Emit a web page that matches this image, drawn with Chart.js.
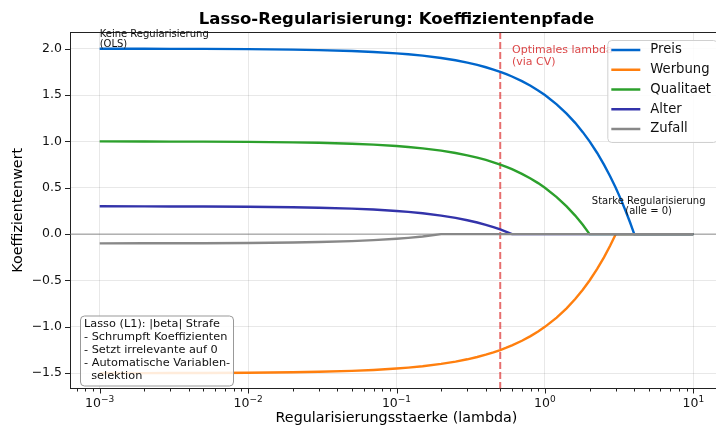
<!DOCTYPE html>
<html>
<head>
<meta charset="utf-8">
<script src="https://cdn.jsdelivr.net/npm/chart.js@4"></script>
<style>
    html, body { margin: 0; padding: 0; background: #fff; overflow: hidden; }
    #wrap { width: 730px; height: 428px; }
</style>
</head>
<body>
<div id="wrap"><canvas id="pfadChart" width="730" height="428"></canvas></div>
<script>
// lambda grid
const lambdas = [0.001, 0.002, 0.003, 0.005, 0.01, 0.02, 0.03, 0.05, 0.07, 0.1, 0.12, 0.15, 0.2, 0.25, 0.3, 0.35, 0.4, 0.45, 0.5,
    0.55, 0.6, 0.7, 0.8, 0.9, 1.0, 1.2, 1.4, 1.6, 1.8, 2.0, 2.25, 2.5, 2.75, 3.0, 3.25, 3.5, 3.75, 4.0, 5.0, 7.0, 10.0];

const preis = [2.0, 1.999, 1.998, 1.998, 1.995, 1.99, 1.985, 1.975, 1.965, 1.95, 1.94, 1.925, 1.9, 1.875, 1.85, 1.825, 1.8, 1.775, 1.75,
    1.725, 1.7, 1.65, 1.6, 1.55, 1.5, 1.4, 1.3, 1.2, 1.1, 1.0, 0.875, 0.75, 0.625, 0.5, 0.375, 0.25, 0.125, 0, 0, 0, 0];
const werbung = [-1.5, -1.499, -1.498, -1.498, -1.495, -1.49, -1.485, -1.475, -1.465, -1.45, -1.44, -1.425, -1.4, -1.375, -1.35, -1.325, -1.3, -1.275, -1.25,
    -1.225, -1.2, -1.15, -1.1, -1.05, -1.0, -0.9, -0.8, -0.7, -0.6, -0.5, -0.375, -0.25, -0.125, 0, 0, 0, 0, 0, 0, 0, 0];
const qualitaet = [1.0, 0.999, 0.998, 0.998, 0.995, 0.99, 0.985, 0.975, 0.965, 0.95, 0.94, 0.925, 0.9, 0.875, 0.85, 0.825, 0.8, 0.775, 0.75,
    0.725, 0.7, 0.65, 0.6, 0.55, 0.5, 0.4, 0.3, 0.2, 0.1, 0, 0, 0, 0, 0, 0, 0, 0, 0, 0, 0, 0];
const alter = [0.3, 0.299, 0.298, 0.298, 0.295, 0.29, 0.285, 0.275, 0.265, 0.25, 0.24, 0.225, 0.2, 0.175, 0.15, 0.125, 0.1, 0.075, 0.05,
    0.025, 0, 0, 0, 0, 0, 0, 0, 0, 0, 0, 0, 0, 0, 0, 0, 0, 0, 0, 0, 0, 0];
const zufall = [-0.1, -0.099, -0.098, -0.098, -0.095, -0.09, -0.085, -0.075, -0.065, -0.05, -0.04, -0.025, 0, 0, 0, 0, 0, 0, 0,
    0, 0, 0, 0, 0, 0, 0, 0, 0, 0, 0, 0, 0, 0, 0, 0, 0, 0, 0, 0, 0, 0];

const seriesNames = ['Preis', 'Werbung', 'Qualitaet', 'Alter', 'Zufall'];
const seriesValues = [preis, werbung, qualitaet, alter, zufall];
const seriesColors = ['#0066cc', '#ff7f0e', '#2ca02c', '#3333aa', '#888888'];

const xTicks = [0.001, 0.01, 0.1, 1, 10];
const xTickExponents = ['\u22123', '\u22122', '\u22121', '0', '1'];
const yTicks = [-1.5, -1.0, -0.5, 0, 0.5, 1.0, 1.5, 2.0];
const optimalLambda = 0.5;

const FONT = "'DejaVu Sans', sans-serif";

// helper: multi-line text centred vertically on y
function drawLines(ctx, lines, x, y, lineH, align) {
    ctx.textAlign = align;
    ctx.textBaseline = 'middle';
    const start = y - (lines.length - 1) * lineH / 2;
    lines.forEach((l, i) => ctx.fillText(l, x, start + i * lineH));
}

const extrasPlugin = {
    id: 'extras',
    beforeDatasetsDraw(chart) {
        const {ctx, chartArea: a, scales: {x, y}} = chart;
        ctx.save();
        // zero line
        const y0 = y.getPixelForValue(0);
        ctx.strokeStyle = 'rgba(120,120,120,0.8)';
        ctx.lineWidth = 1;
        ctx.beginPath(); ctx.moveTo(a.left, y0); ctx.lineTo(a.right, y0); ctx.stroke();
        // optimal lambda
        const xo = x.getPixelForValue(optimalLambda);
        ctx.strokeStyle = 'rgba(220,50,50,0.7)';
        ctx.lineWidth = 2;
        ctx.setLineDash([7, 3]);
        ctx.beginPath(); ctx.moveTo(xo, a.top); ctx.lineTo(xo, a.bottom); ctx.stroke();
        ctx.restore();
    },
    afterDatasetsDraw(chart) {
        const {ctx, chartArea: a, scales: {x, y}} = chart;
        ctx.save();

        // top spine
        ctx.strokeStyle = '#222';
        ctx.lineWidth = 1;
        ctx.beginPath(); ctx.moveTo(a.left, a.top + 0.5); ctx.lineTo(a.right, a.top + 0.5); ctx.stroke();

        // tick marks (major + minor on log axis)
        ctx.beginPath();
        for (let e = -4; e <= 1; e++) {
            for (let k = 1; k <= 9; k++) {
                const v = k * Math.pow(10, e);
                if (v < x.min || v > x.max) continue;
                const px = Math.round(x.getPixelForValue(v)) + 0.5;
                ctx.moveTo(px, a.bottom);
                ctx.lineTo(px, a.bottom + (k === 1 ? 5 : 3));
            }
        }
        yTicks.forEach(v => {
            const py = Math.round(y.getPixelForValue(v)) + 0.5;
            ctx.moveTo(a.left - 5, py);
            ctx.lineTo(a.left, py);
        });
        ctx.stroke();

        // x tick labels: 10 with superscript exponent
        ctx.fillStyle = '#111';
        ctx.textBaseline = 'alphabetic';
        ctx.textAlign = 'left';
        xTicks.forEach((v, i) => {
            ctx.font = '12.5px ' + FONT;
            const wb = ctx.measureText('10').width;
            ctx.font = '9px ' + FONT;
            const we = ctx.measureText(xTickExponents[i]).width;
            const px = x.getPixelForValue(v);
            const sx = px - (wb + we) / 2;
            const base = a.bottom + 18;
            ctx.font = '12.5px ' + FONT;
            ctx.fillText('10', sx, base);
            ctx.font = '9px ' + FONT;
            ctx.fillText(xTickExponents[i], sx + wb, base - 5);
        });

        // annotations
        ctx.fillStyle = '#111';
        ctx.font = '10px ' + FONT;
        drawLines(ctx, ['Keine Regularisierung', '(OLS)'], x.getPixelForValue(0.001), y.getPixelForValue(2.1), 10.5, 'left');
        drawLines(ctx, ['Starke Regularisierung', '(alle = 0)'], x.getPixelForValue(5), y.getPixelForValue(0.3), 10.5, 'center');
        ctx.fillStyle = 'rgba(214,39,40,0.85)';
        ctx.font = '11px ' + FONT;
        drawLines(ctx, ['Optimales lambda', '(via CV)'], x.getPixelForValue(0.6), y.getPixelForValue(1.92), 12.5, 'left');

        // info box bottom left
        const boxLines = ['Lasso (L1): |beta| Strafe', '- Schrumpft Koeffizienten', '- Setzt irrelevante auf 0',
            '- Automatische Variablen-', '  selektion'];
        ctx.font = '11.3px ' + FONT;
        const bx = a.left + 10, bw = 153, bh = 70, by = a.bottom - 3 - bh;
        ctx.beginPath();
        ctx.roundRect(bx + 0.5, by + 0.5, bw, bh, 4);
        ctx.fillStyle = 'rgba(255,255,255,0.85)';
        ctx.fill();
        ctx.strokeStyle = '#999';
        ctx.lineWidth = 1;
        ctx.stroke();
        ctx.fillStyle = '#111';
        ctx.textAlign = 'left';
        ctx.textBaseline = 'middle';
        boxLines.forEach((l, i) => ctx.fillText(l, bx + 4, by + 9 + i * 12.8));

        // legend top right
        ctx.font = '13.2px ' + FONT;
        const maxW = Math.max(...seriesNames.map(n => ctx.measureText(n).width));
        const lr = a.right - 6, lt = a.top + 8;
        const lw = 4 + 29 + 10 + maxW + 6, lh = 102;
        const ll = lr - lw;
        ctx.beginPath();
        ctx.roundRect(ll + 0.5, lt + 0.5, lw, lh, 4);
        ctx.fillStyle = 'rgba(255,255,255,0.85)';
        ctx.fill();
        ctx.strokeStyle = '#d0d0d0';
        ctx.stroke();
        seriesNames.forEach((n, i) => {
            const ry = lt + 10 + i * 19.75;
            ctx.strokeStyle = seriesColors[i];
            ctx.lineWidth = 2.5;
            ctx.beginPath(); ctx.moveTo(ll + 4, ry); ctx.lineTo(ll + 33, ry); ctx.stroke();
            ctx.fillStyle = '#111';
            ctx.textAlign = 'left';
            ctx.fillText(n, ll + 43, ry);
        });

        // title
        ctx.fillStyle = '#000';
        ctx.font = 'bold 16.5px ' + FONT;
        ctx.textAlign = 'center';
        ctx.textBaseline = 'middle';
        ctx.fillText('Lasso-Regularisierung: Koeffizientenpfade', (a.left + a.right) / 2, 20);

        ctx.restore();
    }
};

const datasets = seriesNames.map((name, i) => ({
    label: name,
    data: lambdas.map((l, j) => ({x: l, y: seriesValues[i][j]})),
    borderColor: seriesColors[i],
    backgroundColor: seriesColors[i],
    borderWidth: 2.4,
    pointRadius: 0,
    fill: false,
    tension: 0,
    order: seriesNames.length - i   // Zufall drawn on top
}));

const ctx = document.getElementById('pfadChart').getContext('2d');
new Chart(ctx, {
    type: 'line',
    data: {datasets: datasets},
    options: {
        responsive: false,
        animation: false,
        layout: {padding: {left: 0, right: 7, top: 32, bottom: 0}},
        plugins: {
            legend: {display: false},
            title: {display: false},
            tooltip: {enabled: false}
        },
        scales: {
            x: {
                type: 'logarithmic',
                bounds: 'data',
                min: Math.pow(10, -3.2),
                max: Math.pow(10, 1.2),
                afterBuildTicks: s => { s.ticks = xTicks.map(v => ({value: v})); },
                afterFit: s => { s.height = 39.5; },
                grid: {color: 'rgba(0,0,0,0.09)', drawTicks: false},
                border: {display: true, color: '#222', width: 1},
                ticks: {display: false},
                title: {
                    display: true,
                    text: 'Regularisierungsstaerke (lambda)',
                    color: '#000',
                    font: {family: FONT, size: 14.3},
                    padding: {top: 0, bottom: 1.4}
                }
            },
            y: {
                type: 'linear',
                min: -1.665,
                max: 2.18,
                afterBuildTicks: s => { s.ticks = yTicks.map(v => ({value: v})); },
                afterFit: s => { s.width = 70; },
                grid: {color: 'rgba(0,0,0,0.09)', drawTicks: false},
                border: {display: true, color: '#222', width: 1},
                ticks: {
                    padding: 8,
                    color: '#111',
                    font: {family: FONT, size: 12.5},
                    callback: v => v.toFixed(1).replace('-', '\u2212')
                },
                title: {
                    display: true,
                    text: 'Koeffizientenwert',
                    color: '#000',
                    font: {family: FONT, size: 14.3},
                    padding: {top: 9.5, bottom: 0}
                }
            }
        }
    },
    plugins: [extrasPlugin]
});
</script>
</body>
</html>
